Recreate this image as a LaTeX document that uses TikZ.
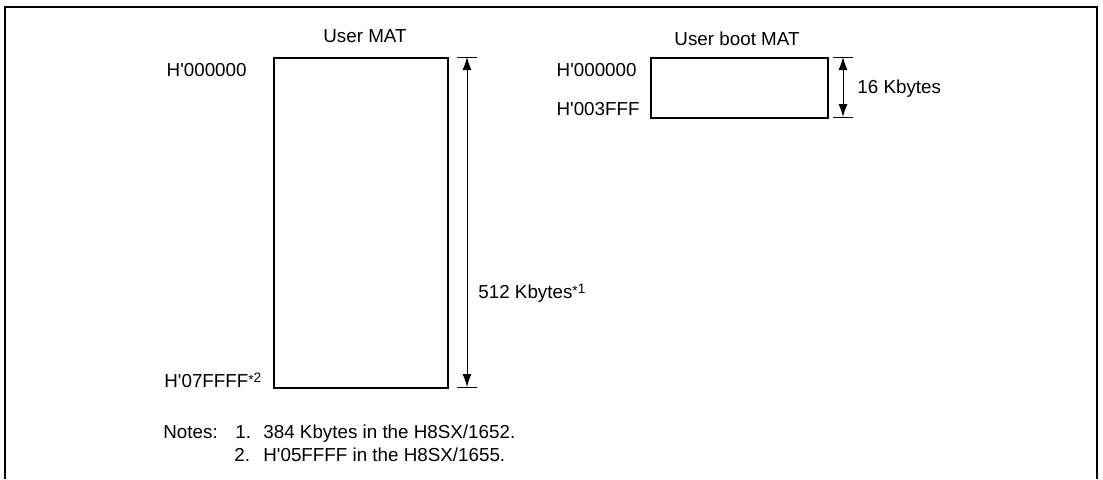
\documentclass[tikz,border=0pt]{standalone}
\usepackage{fontspec}
\setmainfont{Liberation Sans}
\usetikzlibrary{arrows.meta}
\newcommand\fnref[1]{\raisebox{2.5pt}{\fontsize{6.8}{7}\selectfont\raisebox{-0.2em}{*}#1}}
\newcommand\ap{\textquotesingle}
\begin{document}
\begin{tikzpicture}[x=0.5pt,y=-0.5pt,
  txt/.style={inner sep=0pt,font=\fontsize{9.4}{11}\selectfont},
  mat/.style={draw,line width=1.2pt,inner sep=0pt,anchor=north west},
  dim/.style={line width=0.5pt},
  dimarrow/.style={line width=0.5pt,{Latex[length=6.5pt,width=4.5pt]}-{Latex[length=6.5pt,width=4.5pt]}},
]
\useasboundingbox (0,0) rectangle (1103,479);
% frame
\draw[line width=1.2pt] (5,479) -- (5,7) -- (1097,7) -- (1097,479);

% User MAT
\node[mat,minimum width=87pt,minimum height=165pt] (umat) at (273,57) {};
\node[txt,anchor=base] (umatlbl) at (365,42) {User MAT};
\node[txt,anchor=base east] (ua0) at (247,76.7) {H\ap000000};
\node[txt,anchor=base west] (ua1) at (164,387) {H\ap07FFFF\fnref{2}};

\coordinate (da) at (467,57);
\coordinate (db) at (467,387);
\draw[dim] ([xshift=-5pt]da) -- ([xshift=5pt]da);
\draw[dim] ([xshift=-5pt]db) -- ([xshift=5pt]db);
\draw[dimarrow] (da) -- (db);
\node[txt,anchor=base west] (usize) at (478,298) {512 Kbytes\fnref{1}};

% User boot MAT
\node[mat,minimum width=88.5pt,minimum height=30pt] (bmat) at (650,57) {};
\node[txt,anchor=base] (bmatlbl) at (737,45) {User boot MAT};
\node[txt,anchor=base east] (ba0) at (637,76.7) {H\ap000000};
\node[txt,anchor=base east] (ba1) at (640,115) {H\ap003FFF};

\coordinate (dc) at (843,57);
\coordinate (dd) at (843,117);
\draw[dim] ([xshift=-5pt]dc) -- ([xshift=5pt]dc);
\draw[dim] ([xshift=-5pt]dd) -- ([xshift=5pt]dd);
\draw[dimarrow] (dc) -- (dd);
\node[txt,anchor=base west] (bsize) at (857,93) {16 Kbytes};

% notes
\node[txt,anchor=base west] (notes) at (163,438) {Notes:};
\node[txt,anchor=base west] (n1a) at (235,438) {1.};
\node[txt,anchor=base west] (n1b) at (263,438) {384 Kbytes in the H8SX/1652.};
\node[txt,anchor=base west] (n2a) at (234,461.7) {2.};
\node[txt,anchor=base west] (n2b) at (263,461.7) {H\ap05FFFF in the H8SX/1655.};
\end{tikzpicture}
\end{document}
